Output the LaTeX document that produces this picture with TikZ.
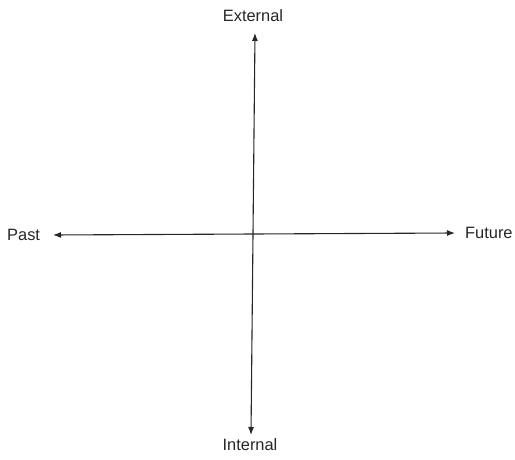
\documentclass[tikz,border=0pt]{standalone}
\usepackage{fontspec}
\setmainfont{Liberation Sans}
\usetikzlibrary{arrows.meta}
\begin{document}
\begin{tikzpicture}[x=1pt,y=-1pt,
  axis/.style={line width=1.1pt,color=black!85,{Latex[length=8pt,width=6pt]}-{Latex[length=8pt,width=6pt]}},
  lbl/.style={font=\fontsize{16.4}{18}\selectfont,text=black!85,inner sep=0pt}]
\useasboundingbox (0,0) rectangle (515,460);
\coordinate (top) at (255,33);
\coordinate (bot) at (251,435);
\coordinate (lft) at (53,235);
\coordinate (rgt) at (455,233);
\draw[axis] (bot) -- (top);
\draw[axis] (lft) -- (rgt);
\node[lbl] (ext) at (253,16) {External};
\node[lbl] (int) at (250,445) {Internal};
\node[lbl,anchor=west] (past) at (7,235) {Past};
\node[lbl,anchor=west] (fut) at (465,233) {Future};
\end{tikzpicture}
\end{document}
